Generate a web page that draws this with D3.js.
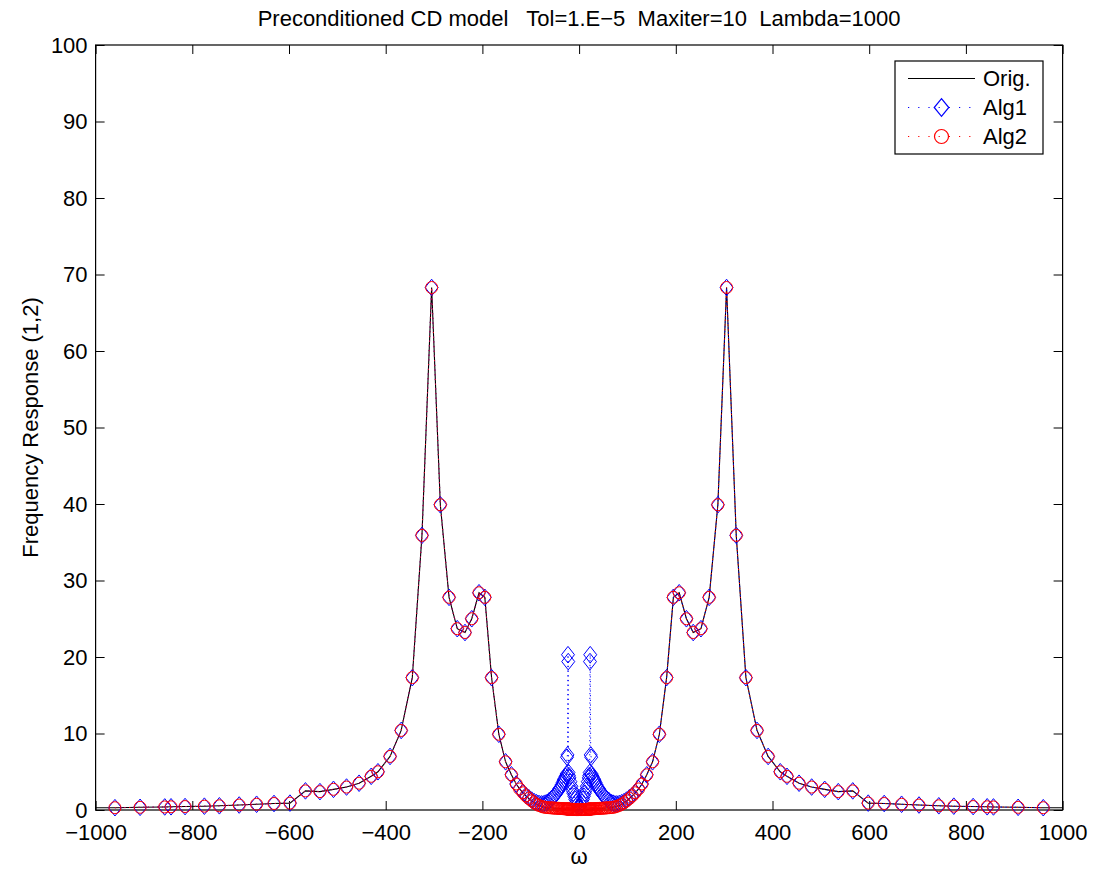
<!DOCTYPE html>
<html>
<head>
<meta charset="utf-8">
<script src="https://cdn.jsdelivr.net/npm/d3@7"></script>
<style>
  body { margin: 0; background: #fff; }
  svg text { font-family: "Liberation Sans", Arial, Helvetica, sans-serif; fill: #000; }
</style>
</head>
<body>
<div id="chart"></div>
<script>
// frequency grid (omega)
const omega = [-1000, -960, -908, -857, -844, -815, -775, -744, -703, -667, -631, -598, -566, -536, -508, -481, -455, -430, -416, -391,
  -368, -345, -325, -305, -287, -269, -252, -236, -222, -207, -195, -181, -166, -152, -140, -130, -123, -116, -110, -104,
  -98, -93, -88, -83, -78, -74, -70, -66, -62, -58, -55, -52, -49, -46, -43, -41, -38, -36, -34, -32,
  -30, -28, -26, -25, -24, -23, -22.5, -22, -21, -20, -18, -16, -14, -12, -10, -8, -6, -4, -2,
  2, 4, 6, 8, 10, 12, 14, 16, 18, 20, 21, 22, 22.5, 23, 24, 25, 26, 28, 30, 32,
  34, 36, 38, 41, 43, 46, 49, 52, 55, 58, 62, 66, 70, 74, 78, 83, 88, 93, 98, 104,
  110, 116, 123, 130, 140, 152, 166, 181, 195, 207, 222, 236, 252, 269, 287, 305, 325, 345, 368, 391,
  416, 430, 455, 481, 508, 536, 566, 598, 631, 667, 703, 744, 775, 815, 844, 857, 908, 960, 1000];

const orig = [0.3, 0.3, 0.35, 0.4, 0.42, 0.45, 0.5, 0.55, 0.65, 0.75, 0.85, 0.9, 2.5, 2.4, 2.7, 3.0, 3.5, 4.4, 5.0, 7.0,
  10.4, 17.3, 35.9, 68.3, 39.9, 27.8, 23.7, 23.2, 25.0, 28.4, 27.8, 17.3, 9.9, 6.3, 4.6, 3.4, 2.75, 2.25, 1.85, 1.5,
  1.2, 0.95, 0.75, 0.6, 0.48, 0.4, 0.35, 0.32, 0.3, 0.28, 0.27, 0.25, 0.24, 0.23, 0.22, 0.21, 0.2, 0.19, 0.18, 0.17,
  0.16, 0.15, 0.14, 0.14, 0.13, 0.13, 0.12, 0.12, 0.12, 0.11, 0.1, 0.1, 0.09, 0.08, 0.07, 0.06, 0.05, 0.05, 0.05,
  0.05, 0.05, 0.05, 0.06, 0.07, 0.08, 0.09, 0.1, 0.1, 0.11, 0.12, 0.12, 0.12, 0.13, 0.13, 0.14, 0.14, 0.15, 0.16, 0.17,
  0.18, 0.19, 0.2, 0.21, 0.22, 0.23, 0.24, 0.25, 0.27, 0.28, 0.3, 0.32, 0.35, 0.4, 0.48, 0.6, 0.75, 0.95, 1.2, 1.5,
  1.85, 2.25, 2.75, 3.4, 4.6, 6.3, 9.9, 17.3, 27.8, 28.4, 25.0, 23.2, 23.7, 27.8, 39.9, 68.3, 35.9, 17.3, 10.4, 7.0,
  5.0, 4.4, 3.5, 3.0, 2.7, 2.4, 2.5, 0.9, 0.85, 0.75, 0.65, 0.55, 0.5, 0.45, 0.42, 0.4, 0.35, 0.3, 0.3];

const alg1 = [null, 0.3, 0.35, 0.4, 0.42, 0.45, 0.5, 0.55, 0.65, 0.75, 0.85, 0.9, 2.5, 2.4, 2.7, 3.0, 3.5, 4.4, 5.0, 7.0,
  10.4, 17.3, 35.9, 68.3, 39.9, 27.8, 23.7, 23.2, 25.0, 28.4, 27.8, 17.3, 9.9, 6.3, 4.6, 3.4, 2.8, 2.3, 1.9, 1.6,
  1.3, 1.1, 0.95, 0.85, 0.8, 0.8, 0.9, 1.0, 1.2, 1.4, 1.6, 1.8, 2.0, 2.3, 2.5, 2.8, 3.0, 3.3, 3.6, 3.9,
  4.1, 4.4, 4.7, 6.9, 7.2, 20.3, 19.4, 4.9, 4.5, 4.2, 3.7, 3.1, 2.6, 2.2, 1.8, 1.4, 1.0, 0.7, 0.4,
  0.4, 0.7, 1.0, 1.4, 1.8, 2.2, 2.6, 3.1, 3.7, 4.2, 4.5, 4.9, 19.4, 20.3, 7.2, 6.9, 4.7, 4.4, 4.1, 3.9,
  3.6, 3.3, 3.0, 2.8, 2.5, 2.3, 2.0, 1.8, 1.6, 1.4, 1.2, 1.0, 0.9, 0.8, 0.8, 0.85, 0.95, 1.1, 1.3, 1.6,
  1.9, 2.3, 2.8, 3.4, 4.6, 6.3, 9.9, 17.3, 27.8, 28.4, 25.0, 23.2, 23.7, 27.8, 39.9, 68.3, 35.9, 17.3, 10.4, 7.0,
  5.0, 4.4, 3.5, 3.0, 2.7, 2.4, 2.5, 0.9, 0.85, 0.75, 0.65, 0.55, 0.5, 0.45, 0.42, 0.4, 0.35, 0.3, null];

const alg2 = [null, 0.3, 0.35, 0.4, 0.42, 0.45, 0.5, 0.55, 0.65, 0.75, 0.85, 0.9, 2.5, 2.4, 2.7, 3.0, 3.5, 4.4, 5.0, 7.0,
  10.4, 17.3, 35.9, 68.3, 39.9, 27.8, 23.7, 23.2, 25.0, 28.4, 27.8, 17.3, 9.9, 6.3, 4.6, 3.4, 2.75, 2.25, 1.85, 1.5,
  1.2, 0.95, 0.75, 0.6, 0.48, 0.4, 0.35, 0.32, 0.3, 0.28, 0.27, 0.25, 0.24, 0.23, 0.22, 0.21, 0.2, 0.19, 0.18, 0.17,
  0.16, 0.15, 0.14, 0.14, 0.13, 0.13, 0.12, 0.12, 0.12, 0.11, 0.1, 0.1, 0.09, 0.08, 0.07, 0.06, 0.05, 0.05, 0.05,
  0.05, 0.05, 0.05, 0.06, 0.07, 0.08, 0.09, 0.1, 0.1, 0.11, 0.12, 0.12, 0.12, 0.13, 0.13, 0.14, 0.14, 0.15, 0.16, 0.17,
  0.18, 0.19, 0.2, 0.21, 0.22, 0.23, 0.24, 0.25, 0.27, 0.28, 0.3, 0.32, 0.35, 0.4, 0.48, 0.6, 0.75, 0.95, 1.2, 1.5,
  1.85, 2.25, 2.75, 3.4, 4.6, 6.3, 9.9, 17.3, 27.8, 28.4, 25.0, 23.2, 23.7, 27.8, 39.9, 68.3, 35.9, 17.3, 10.4, 7.0,
  5.0, 4.4, 3.5, 3.0, 2.7, 2.4, 2.5, 0.9, 0.85, 0.75, 0.65, 0.55, 0.5, 0.45, 0.42, 0.4, 0.35, 0.3, null];

const xTicks = [-1000, -800, -600, -400, -200, 0, 200, 400, 600, 800, 1000];
const yTicks = [0, 10, 20, 30, 40, 50, 60, 70, 80, 90, 100];
const seriesNames = ['Orig.', 'Alg1', 'Alg2'];
const titleText = 'Preconditioned CD model   Tol=1.E\u22125  Maxiter=10  Lambda=1000';

function drawChart() {
  const width = 1096, height = 873;
  const box = { left: 95.6, right: 1062.6, top: 45, bottom: 810 };
  const tickLen = 9;

  const svg = d3.select('#chart').append('svg')
    .attr('width', width)
    .attr('height', height);

  const x = d3.scaleLinear().domain([-1000, 1000]).range([box.left, box.right]);
  const y = d3.scaleLinear().domain([0, 100]).range([box.bottom, box.top]);

  const rows = omega.map((w, i) => ({ w: w, o: orig[i], a1: alg1[i], a2: alg2[i] }));

  // axes, ticks inward on all four sides
  const fmt = d3.format('d');
  svg.append('g')
    .attr('transform', `translate(0,${box.bottom})`)
    .call(d3.axisBottom(x).tickValues(xTicks).tickFormat(fmt).tickSize(-tickLen).tickSizeOuter(0).tickPadding(14))
    .call(g => g.selectAll('text').attr('font-size', 22).attr('dy', '0.71em'));
  svg.append('g')
    .attr('transform', `translate(0,${box.top})`)
    .call(d3.axisTop(x).tickValues(xTicks).tickFormat('').tickSize(-tickLen).tickSizeOuter(0));
  svg.append('g')
    .attr('transform', `translate(${box.left},0)`)
    .call(d3.axisLeft(y).tickValues(yTicks).tickFormat(fmt).tickSize(-tickLen).tickSizeOuter(0).tickPadding(8))
    .call(g => g.selectAll('text').attr('font-size', 22));
  svg.append('g')
    .attr('transform', `translate(${box.right},0)`)
    .call(d3.axisRight(y).tickValues(yTicks).tickFormat('').tickSize(-tickLen).tickSizeOuter(0));
  svg.selectAll('.domain').remove();
  svg.selectAll('.tick line').attr('stroke', '#000').attr('stroke-width', 1);
  svg.selectAll('.tick text').attr('font-family', '"Liberation Sans", Arial, sans-serif').attr('fill', '#000');

  svg.append('rect')
    .attr('x', box.left).attr('y', box.top)
    .attr('width', box.right - box.left).attr('height', box.bottom - box.top)
    .attr('fill', 'none').attr('stroke', '#000').attr('stroke-width', 1.2);

  // Orig.
  const lineO = d3.line().x(d => x(d.w)).y(d => y(d.o));
  svg.append('path')
    .datum(rows)
    .attr('d', lineO)
    .attr('fill', 'none').attr('stroke', '#000').attr('stroke-width', 1.1);

  // Alg1: blue dotted with diamonds
  const lineA1 = d3.line().defined(d => d.a1 != null).x(d => x(d.w)).y(d => y(d.a1));
  svg.append('path')
    .datum(rows)
    .attr('d', lineA1)
    .attr('fill', 'none').attr('stroke', '#0000ff').attr('stroke-width', 1)
    .attr('stroke-dasharray', '1.2,3.5');
  const diamond = 'M0,-8.3L6.5,0L0,8.3L-6.5,0Z';
  svg.append('g').selectAll('path')
    .data(rows.filter(d => d.a1 != null))
    .join('path')
    .attr('transform', d => `translate(${x(d.w)},${y(d.a1)})`)
    .attr('d', diamond)
    .attr('fill', 'none').attr('stroke', '#0000ff').attr('stroke-width', 1);

  // Alg2: red dotted with circles
  const lineA2 = d3.line().defined(d => d.a2 != null).x(d => x(d.w)).y(d => y(d.a2));
  svg.append('path')
    .datum(rows)
    .attr('d', lineA2)
    .attr('fill', 'none').attr('stroke', '#ff0000').attr('stroke-width', 1)
    .attr('stroke-dasharray', '1.2,3.5');
  svg.append('g').selectAll('circle')
    .data(rows.filter(d => d.a2 != null))
    .join('circle')
    .attr('cx', d => x(d.w))
    .attr('cy', d => y(d.a2))
    .attr('r', 6)
    .attr('fill', 'none').attr('stroke', '#ff0000').attr('stroke-width', 1);

  // title and axis labels
  svg.append('text')
    .attr('x', (box.left + box.right) / 2).attr('y', 26)
    .attr('text-anchor', 'middle')
    .attr('font-size', 22)
    .style('white-space', 'pre')
    .text(titleText);
  svg.append('text')
    .attr('x', (box.left + box.right) / 2).attr('y', 864)
    .attr('text-anchor', 'middle')
    .attr('font-size', 22)
    .attr('font-family', '"DejaVu Serif", "Liberation Serif", serif')
    .text('\u03c9');
  svg.append('text')
    .attr('transform', `translate(38,${(box.top + box.bottom) / 2}) rotate(-90)`)
    .attr('text-anchor', 'middle')
    .attr('font-size', 22)
    .text('Frequency Response (1,2)');

  // legend
  const lg = svg.append('g').attr('transform', 'translate(895,61)');
  lg.append('rect')
    .attr('width', 148).attr('height', 93)
    .attr('fill', '#fff').attr('stroke', '#000').attr('stroke-width', 1.2);
  const rowY = [17.5, 46.5, 75.5];
  seriesNames.forEach((name, i) => {
    const gy = rowY[i];
    const l = lg.append('line')
      .attr('x1', 13).attr('x2', 80).attr('y1', gy).attr('y2', gy)
      .attr('stroke', ['#000', '#0000ff', '#ff0000'][i]).attr('stroke-width', 1.1);
    if (i > 0) l.attr('stroke-dasharray', '1.2,9');
    if (i === 1) {
      lg.append('path').attr('transform', `translate(46.5,${gy})`).attr('d', 'M0,-8.8L7.3,0L0,8.8L-7.3,0Z')
        .attr('fill', 'none').attr('stroke', '#0000ff').attr('stroke-width', 1.2);
    }
    if (i === 2) {
      lg.append('circle').attr('cx', 46.5).attr('cy', gy).attr('r', 7)
        .attr('fill', 'none').attr('stroke', '#ff0000').attr('stroke-width', 1.2);
    }
    lg.append('text')
      .attr('x', 88).attr('y', gy).attr('dy', '0.36em')
      .attr('font-size', 22)
      .text(name);
  });
}

drawChart();
</script>
</body>
</html>
